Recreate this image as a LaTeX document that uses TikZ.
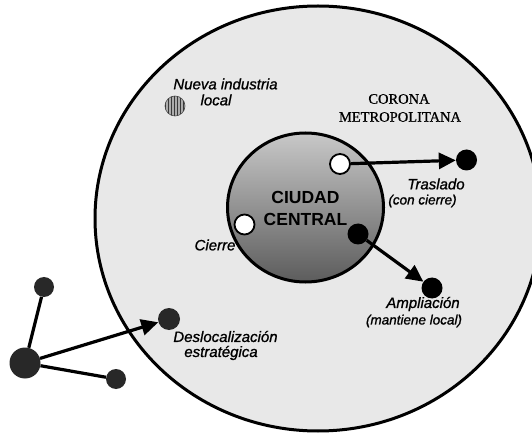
\documentclass[tikz,border=0pt]{standalone}
\usepackage{fontspec}
\setmainfont{Liberation Sans}
\newfontfamily\serifff[FakeBold=0.8]{Liberation Serif}
\newfontfamily\labfont[FakeBold=1.0]{Liberation Sans}
\usetikzlibrary{arrows.meta,patterns}
\definecolor{outerfill}{RGB}{232,232,232}
\definecolor{darkdot}{RGB}{40,40,40}
\tikzset{
  dotbase/.style={circle,inner sep=0pt,minimum size=#1},
  whitedot/.style={dotbase=20pt,fill=white,draw=black,line width=1.8pt},
  blackdot/.style={dotbase=21pt,fill=black},
  greydot/.style={dotbase=#1,fill=darkdot},
  hatchdot/.style={dotbase=20pt,fill=gray!65,draw=gray!60!black,line width=0.6pt,
     postaction={pattern=vertical lines,pattern color=gray!45!black}},
  lab/.style={font=\fontsize{15}{17}\labfont\itshape,inner sep=0pt},
  sublab/.style={font=\fontsize{13.5}{15}\labfont\itshape,inner sep=0pt},
  city/.style={font=\fontsize{17.5}{20}\selectfont\bfseries,inner sep=0pt},
  corona/.style={font=\fontsize{14.5}{17}\serifff,inner sep=0pt},
  arr/.style={line width=3.2pt,-{Triangle[length=17pt,width=16pt]}},
  link/.style={line width=3.2pt}
}
\begin{document}
\begin{tikzpicture}[x=1pt,y=-1pt]
\useasboundingbox (0,0) rectangle (532,435);
\fill[white] (0,0) rectangle (532,435);
% rings
\draw[line width=3pt,fill=outerfill] (318,218.5) ellipse [x radius=223,y radius=212.5];
\draw[line width=3pt,top color={rgb,255:red,200;green,200;blue,200},bottom color={rgb,255:red,92;green,92;blue,92}]
  (305.5,207.5) ellipse [x radius=78,y radius=74.5];
% texts
\node[city] (c1) at (305.5,197) {CIUDAD};
\node[city] (c2) at (305.5,219) {CENTRAL};
\node[corona] (k1) at (399,99) {CORONA};
\node[corona] (k2) at (400,117) {METROPOLITANA};
\node[lab] (n1) at (225.5,84) {Nueva industria};
\node[lab] (n2) at (216,100) {local};
\node[lab] (t1) at (436,184) {Traslado};
\node[sublab] (t2) at (422.5,201) {(con cierre)};
\node[lab] (a1t) at (423,304) {Ampliación};
\node[sublab] (a2t) at (414,321) {(mantiene local)};
\node[lab] (ci) at (215,245) {Cierre};
\node[lab] (d1) at (225.5,336.5) {Deslocalización};
\node[lab] (d2) at (221,353) {estratégica};
% dots
\node[hatchdot] (nue) at (175,106) {};
\node[whitedot] (ws) at (340,164) {};
\node[blackdot] (we) at (466.5,160) {};
\node[whitedot] (cw) at (244.5,224.5) {};
\node[blackdot] (as) at (358,234) {};
\node[blackdot] (ae) at (432,288) {};
\node[greydot=22pt] (de) at (169,319) {};
\node[greydot=31pt] (big) at (25,363) {};
\node[greydot=20pt] (top) at (44,287) {};
\node[greydot=20pt] (bot) at (116,379) {};
% connectors
\draw[arr] (ws) -- (we);
\draw[arr] (as) -- (ae);
\draw[arr] (big) -- (de);
\draw[link] (big) -- (top);
\draw[link] (big) -- (bot);
\end{tikzpicture}
\end{document}
